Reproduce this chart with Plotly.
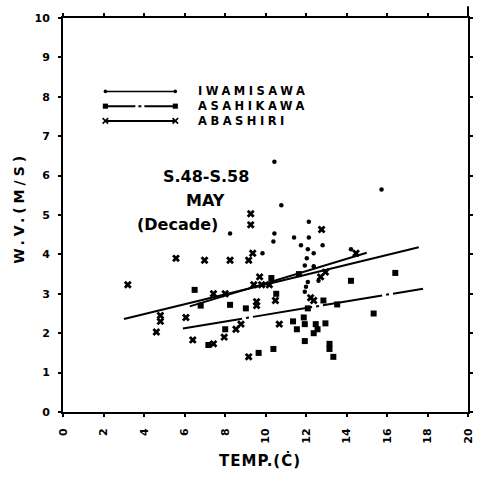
import plotly.graph_objects as go

# ---------------- data ----------------
iwa_x = [10.44, 10.78, 15.73, 12.14, 8.25, 10.44, 10.39, 11.41, 12.14, 11.75, 12.82,
         12.09, 12.38, 12.04, 9.85, 14.22, 11.94, 12.38, 12.09, 12.00, 11.94, 12.62]
iwa_y = [6.35, 5.25, 5.65, 4.83, 4.53, 4.53, 4.33, 4.43, 4.43, 4.23, 4.23,
         4.13, 4.03, 3.90, 4.03, 4.13, 3.72, 3.70, 3.30, 3.18, 3.05, 3.33]

asa_x = [6.50, 10.29, 11.65, 10.53, 6.80, 8.25, 9.03, 8.01, 7.18, 9.66, 10.39,
         14.22, 16.41, 15.34, 13.54, 12.86, 13.16, 13.16, 13.35, 12.09, 11.89,
         11.36, 11.94, 12.48, 12.57, 12.96, 11.55, 12.38, 11.94]
asa_y = [3.10, 3.40, 3.50, 3.00, 2.70, 2.72, 2.63, 2.10, 1.70, 1.50, 1.60,
         3.33, 3.53, 2.50, 2.73, 2.83, 1.73, 1.60, 1.40, 2.63, 2.40,
         2.30, 2.23, 2.23, 2.10, 2.25, 2.10, 2.00, 1.80]

aba_x = [3.20, 5.58, 6.99, 8.25, 9.17, 9.37, 9.27, 9.27, 12.77, 14.47, 9.71,
         9.42, 9.81, 10.19, 7.43, 8.01, 9.56, 9.56, 10.49, 4.81, 4.81, 6.07,
         4.61, 8.54, 8.79, 10.68, 6.41, 7.43, 7.96, 9.17, 12.72, 12.96, 12.23, 12.38]
aba_y = [3.23, 3.90, 3.85, 3.85, 3.85, 4.03, 5.03, 4.75, 4.63, 4.03, 3.43,
         3.23, 3.23, 3.23, 3.00, 3.00, 2.80, 2.70, 2.83, 2.45, 2.30, 2.40,
         2.03, 2.10, 2.23, 2.23, 1.83, 1.73, 1.90, 1.40, 3.43, 3.55, 2.90, 2.83]

# regression lines (end points)
iwa_fit_x = [6.26, 15.0]
iwa_fit_y = [2.68, 4.04]
asa_fit_x = [5.92, 17.78]
asa_fit_y = [2.12, 3.13]
aba_fit_x = [3.01, 17.57]
aba_fit_y = [2.36, 4.18]

x_tickvals = [0, 2, 4, 6, 8, 10, 12, 14, 16, 18, 20]
x_ticktext = ["0", "2", "4", "6", "8", "10", "12", "14", "16", "18", "20"]
y_tickvals = list(range(0, 11))

series_names = ["IWAMISAWA", "ASAHIKAWA", "ABASHIRI"]

# ---------------- figure ----------------
W, H = 487, 477
ML, MR, MT, MB = 63, 13, 12, 65
PW, PH = W - ML - MR, H - MT - MB

def px(xp):
    return (xp - ML) / PW

def py(yp):
    return (MT + PH - yp) / PH

BOLD = "DejaVu Sans"
fig = go.Figure()

fig.add_trace(go.Scatter(x=aba_fit_x, y=aba_fit_y, mode="lines",
                         line=dict(color="black", width=2), showlegend=False))
fig.add_trace(go.Scatter(x=iwa_fit_x, y=iwa_fit_y, mode="lines",
                         line=dict(color="black", width=2), showlegend=False))
fig.add_trace(go.Scatter(x=asa_fit_x, y=asa_fit_y, mode="lines",
                         line=dict(color="black", width=2, dash="60px,4px,3px,4px"),
                         showlegend=False))

fig.add_trace(go.Scatter(x=iwa_x, y=iwa_y, mode="markers", name=series_names[0],
                         marker=dict(symbol="circle", size=4.5, color="black"),
                         showlegend=False))
fig.add_trace(go.Scatter(x=asa_x, y=asa_y, mode="markers", name=series_names[1],
                         marker=dict(symbol="square", size=6, color="black"),
                         showlegend=False))
fig.add_trace(go.Scatter(x=aba_x, y=aba_y, mode="markers", name=series_names[2],
                         marker=dict(symbol="x", size=7, color="black"),
                         showlegend=False))

shapes = []
annotations = []

# custom legend (line samples with end markers)
leg_x0, leg_x1 = 106, 177
leg_rows = [(86.5, "circle"), (101.5, "square"), (116.5, "x")]
for (yy, sym) in leg_rows:
    lw = 1.5 if sym == "circle" else 2
    shapes.append(dict(type="line", xref="paper", yref="paper",
                       x0=px(leg_x0), x1=px(leg_x1), y0=py(yy), y1=py(yy),
                       line=dict(color="black", width=lw,
                                 dash="solid" if sym != "square" else "30px,3px,3px,3px")))
    for ex in (leg_x0, leg_x1):
        if sym == "circle":
            r = 1.8
            shapes.append(dict(type="circle", xref="paper", yref="paper",
                               x0=px(ex - r), x1=px(ex + r), y0=py(yy + r), y1=py(yy - r),
                               fillcolor="black", line=dict(width=0)))
        elif sym == "square":
            r = 2.6
            shapes.append(dict(type="rect", xref="paper", yref="paper",
                               x0=px(ex - r), x1=px(ex + r), y0=py(yy + r), y1=py(yy - r),
                               fillcolor="black", line=dict(width=0)))
        else:
            r = 2.8
            for s in (1, -1):
                shapes.append(dict(type="line", xref="paper", yref="paper",
                                   x0=px(ex - r), x1=px(ex + r),
                                   y0=py(yy - s * r), y1=py(yy + s * r),
                                   line=dict(color="black", width=1.6)))

legend_text = "<br>".join('<b><span style="letter-spacing:3.5px">' + n + "</span></b>"
                          for n in series_names)
annotations.append(dict(xref="paper", yref="paper", x=px(198), y=py(101.5),
                        xanchor="left", yanchor="middle", align="left", showarrow=False,
                        text=legend_text,
                        font=dict(family=BOLD, size=11.5, color="black", weight="bold")))

# right border extension above the frame
shapes.append(dict(type="line", xref="paper", yref="paper", x0=1, x1=1, y0=1,
                   y1=py(0), line=dict(color="black", width=2)))

# in-plot titles
for txt, cx, cy in [("S.48-S.58", 208, 173), ("MAY", 208, 197), ("(Decade)", 179.5, 222)]:
    annotations.append(dict(xref="paper", yref="paper", x=px(cx), y=py(cy),
                            xanchor="center", yanchor="middle", showarrow=False,
                            text=txt,
                            font=dict(family=BOLD, size=16, color="black", weight="bold")))

# axis titles
annotations.append(dict(xref="paper", yref="paper", x=px(263), y=py(461),
                        xanchor="center", yanchor="middle", showarrow=False,
                        text='<b><span style="letter-spacing:1px">TEMP.(Ċ)</span></b>',
                        font=dict(family=BOLD, size=15, color="black", weight="bold")))
annotations.append(dict(xref="paper", yref="paper", x=px(18), y=py(205),
                        xanchor="center", yanchor="middle", showarrow=False, textangle=-90,
                        text='<b><span style="letter-spacing:4px">W.V.(M/S)</span></b>',
                        font=dict(family=BOLD, size=14, color="black", weight="bold")))

axis_common = dict(showline=True, linecolor="black", linewidth=2, mirror="ticks",
                   ticks="outside", ticklen=3, tickwidth=2, tickcolor="black",
                   showgrid=False, zeroline=False,
                   tickfont=dict(family=BOLD, size=11, color="black", weight="bold"))

fig.update_layout(
    width=W, height=H,
    margin=dict(l=ML, r=MR, t=MT, b=MB, pad=0),
    paper_bgcolor="white", plot_bgcolor="white",
    xaxis=dict(range=[0, 20], tickvals=x_tickvals, ticktext=x_ticktext,
               tickangle=-90, ticklabelstandoff=7, **axis_common),
    yaxis=dict(range=[0, 10], tickvals=y_tickvals, ticklabelstandoff=6, **axis_common),
    shapes=shapes, annotations=annotations, showlegend=False,
)

fig.write_html("out.html")
